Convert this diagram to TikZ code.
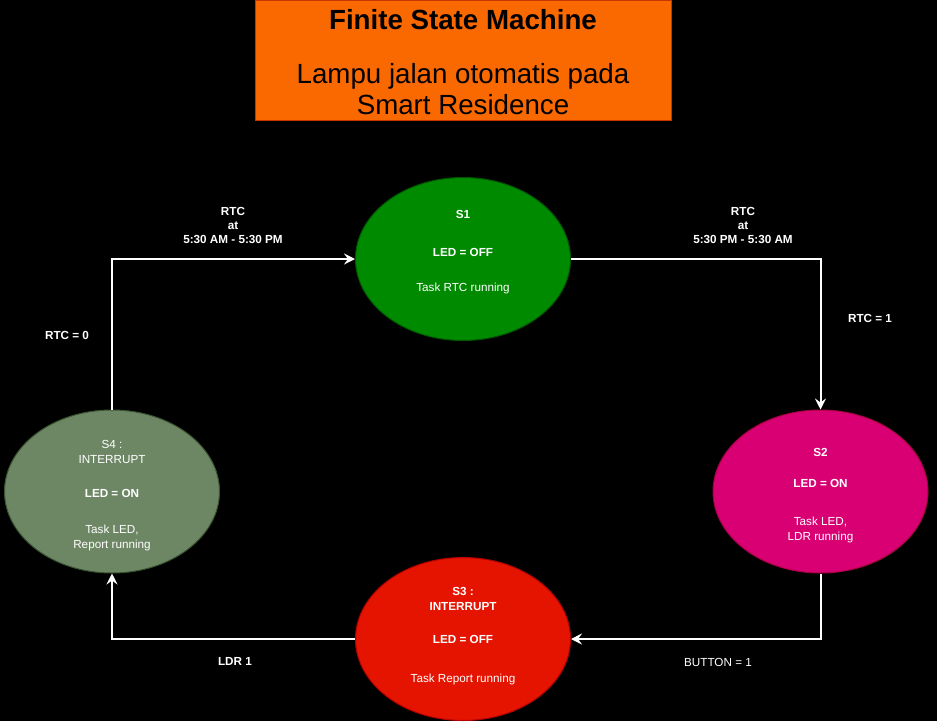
\documentclass[tikz,border=0pt]{standalone}
\usepackage{fontspec}
\setmainfont{Liberation Sans}
\usetikzlibrary{arrows.meta, positioning, shapes.geometric}
\definecolor{titlefill}{HTML}{FA6800}
\definecolor{titleline}{HTML}{C73500}
\definecolor{sonefill}{HTML}{008A00}
\definecolor{soneline}{HTML}{005700}
\definecolor{stwofill}{HTML}{D80073}
\definecolor{stwoline}{HTML}{A50040}
\definecolor{sthreefill}{HTML}{E51400}
\definecolor{sthreeline}{HTML}{B20000}
\definecolor{sfourfill}{HTML}{6D8764}
\definecolor{sfourline}{HTML}{3A5431}

\begin{document}
\begin{tikzpicture}[x=1pt,y=-1pt,>={Stealth[length=11pt,width=11pt,inset=4pt]}]
    \tikzstyle{state}=[ellipse, minimum width=215pt, minimum height=163pt, inner sep=0pt, line width=1pt]
    \tikzstyle{state text}=[text=white, align=center, font=\fontsize{11.7}{15}\selectfont]
    \tikzstyle{link}=[->, draw=white, line width=2pt]
    \tikzstyle{annot}=[text=white, align=center, font=\fontsize{11.7}{14}\selectfont\bfseries]

    % background
    \fill[black] (0,0) rectangle (937,721);
    \useasboundingbox (0,0) rectangle (937,721);

    % Draw the title box
    \node[draw=titleline, fill=titlefill, minimum width=416pt, minimum height=120pt, inner sep=0pt] (title) at (463,60) {};
    \node[align=center, font=\fontsize{27.7}{31.5}\selectfont, yshift=-2.5pt] (title-t) at (title.center)
          {{\bfseries Finite State Machine}\\[22pt]Lampu jalan otomatis pada\\Smart Residence};

    % Draw the states
    \node[state, fill=sonefill, draw=soneline] (S1) at (463,259) {};
    \node[state, fill=stwofill, draw=stwoline] (S2) at (820.5,491.5) {};
    \node[state, fill=sthreefill, draw=sthreeline] (S3) at (463,639) {};
    \node[state, fill=sfourfill, draw=sfourline] (S4) at (112,491.5) {};

    \node[state text, yshift=6.5pt] (S1-t) at (S1.center)
          {\bfseries S1\\[23pt]\bfseries LED = OFF\\[20pt]Task RTC running};
    \node[state text, yshift=-4.5pt] (S2-t) at (S2.center)
          {\bfseries S2\\[16pt]\bfseries LED = ON\\[23pt]Task LED,\\LDR running};
    \node[state text, yshift=3pt] (S3-t) at (S3.center)
          {\bfseries S3 :\\\bfseries INTERRUPT\\[18pt]\bfseries LED = OFF\\[24pt]Task Report running};
    \node[state text, yshift=-4pt] (S4-t) at (S4.center)
          {S4 :\\INTERRUPT\\[19pt]\bfseries LED = ON\\[21pt]Task LED,\\Report running};

    % Draw the transitions
    \draw[link] (S4.north) |- (S1.west);
    \draw[link] (S1.east) -| (S2.north);
    \draw[link] (S2.south) |- (S3.east);
    \draw[link] (S3.west) -| (S4.south);

    % transition labels
    \node[annot] (t41) at (233,225.5) {RTC\\at\\5:30 AM - 5:30 PM};
    \node[annot] (t12) at (743,225.5) {RTC\\at\\5:30 PM - 5:30 AM};
    \node[annot] (c12) at (870,318) {RTC = 1};
    \node[annot] (c41) at (67,335) {RTC = 0};
    \node[annot, font=\fontsize{11.7}{14}\selectfont] (c23) at (718,662) {BUTTON = 1};
    \node[annot] (c34) at (235,661) {LDR 1};
\end{tikzpicture}
\end{document}
